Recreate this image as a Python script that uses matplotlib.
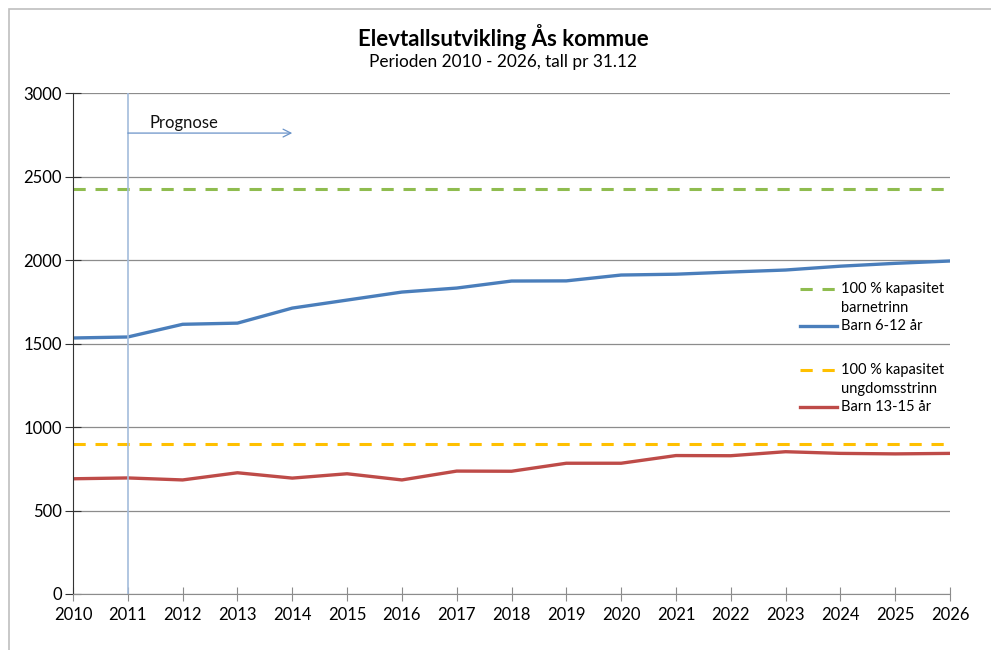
import matplotlib.pyplot as plt
from matplotlib.patches import Rectangle

plt.rcParams['font.family'] = ['Lato', 'DejaVu Sans']

years = list(range(2010, 2027))
barn_6_12 = [1533, 1539, 1615, 1622, 1712, 1760, 1808, 1832, 1874, 1875,
             1910, 1915, 1928, 1940, 1963, 1980, 1994]
barn_13_15 = [690, 695, 683, 726, 694, 720, 683, 736, 735, 783,
              783, 829, 828, 852, 842, 839, 842]
kap_barnetrinn = 2425
kap_ungdomstrinn = 900
prognose_start = 2011
prognose_end = 2014

blue = "#4a7ebb"
red = "#be4b48"
green = "#8fbc4f"
yellow = "#ffc000"
DASH = (4, 3.2)

# axes box in pixels
X0, X1, Y0, Y1 = 73, 950, 594, 93


def px(x, y):
    return (x - X0) / (X1 - X0), (Y0 - y) / (Y0 - Y1)


def legend_entry(ax, y, color, label, dashed=False, lw=2.4):
    # handle sits on the first text line, extra lines go below it
    (hx0, hy), (hx1, _) = px(800, y), px(837, y)
    kw = dict(dashes=DASH) if dashed else {}
    ax.plot([hx0, hx1], [hy, hy], color=color, linewidth=lw, transform=ax.transAxes,
            clip_on=False, **kw)
    for i, line in enumerate(label.split("\n")):
        tx, ty = px(841, y + 19 * i)
        ax.text(tx, ty, line, transform=ax.transAxes, fontsize=10.5, va="center", ha="left")


fig = plt.figure(figsize=(9.91, 6.5), dpi=100)
ax = fig.add_axes([X0 / 991, 1 - Y0 / 650, (X1 - X0) / 991, (Y0 - Y1) / 650])

# grey chart border (right and bottom edges fall outside the picture)
fig.patches.append(Rectangle((9 / 991, -0.1), 1.2, 1 - 9 / 650 + 0.1, transform=fig.transFigure,
                             fill=False, edgecolor="#bfbfbf", linewidth=1.2))

ax.axhline(kap_barnetrinn, color=green, linewidth=2.2, dashes=DASH)
ax.plot(years, barn_6_12, color=blue, linewidth=2.4)
ax.axhline(kap_ungdomstrinn, color=yellow, linewidth=2.2, dashes=DASH)
ax.plot(years, barn_13_15, color=red, linewidth=2.4)

ax.axvline(prognose_start, color="#a3bcdc", linewidth=1.2)
ax.annotate("", xy=(prognose_end, 2760), xytext=(prognose_start, 2760),
            arrowprops=dict(arrowstyle="->", color="#6a93c8", linewidth=0.9,
                            shrinkA=0, shrinkB=0, mutation_scale=14))
ax.text(prognose_start + 0.4, 2772, "Prognose", fontsize=12, va="bottom", color="#111111")

ax.set_xlim(2010, 2026)
ax.set_ylim(0, 3000)
ax.set_xticks(years)
ax.set_yticks(range(0, 3001, 500))
ax.grid(axis="y", color="#8c8c8c", linewidth=0.9)
ax.set_axisbelow(True)

for s in ["top", "right"]:
    ax.spines[s].set_visible(False)
ax.spines["left"].set_color("#333333")
ax.spines["bottom"].set_color("#8c8c8c")
ax.tick_params(axis="y", direction="inout", length=12, color="#333333", labelsize=12, pad=2)
ax.tick_params(axis="x", direction="inout", length=10, color="#8c8c8c", labelsize=12, pad=4)

legend_entry(ax, 289, green, "100 % kapasitet\nbarnetrinn", dashed=True, lw=2.2)
legend_entry(ax, 326, blue, "Barn 6-12 år")
legend_entry(ax, 370, yellow, "100 % kapasitet\nungdomsstrinn", dashed=True, lw=2.2)
legend_entry(ax, 407, red, "Barn 13-15 år")

fig.text(0.508, 1 - 37 / 650, "Elevtallsutvikling Ås kommue", ha="center", va="center",
         fontsize=16, fontweight="bold")
fig.text(0.508, 1 - 62 / 650, "Perioden 2010 - 2026, tall pr 31.12", ha="center", va="center",
         fontsize=12.4)

fig.savefig("out.png", dpi=100)
